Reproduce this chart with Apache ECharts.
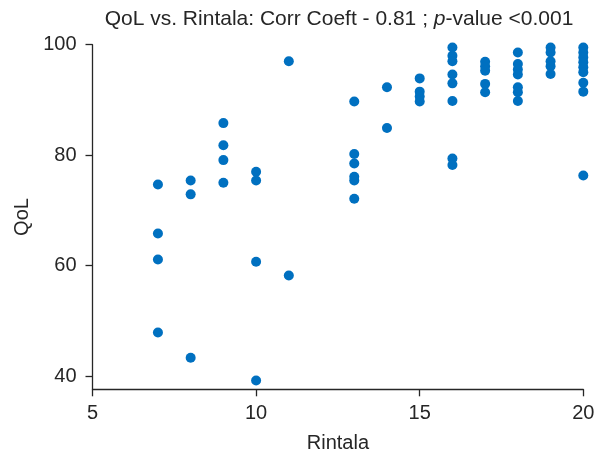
<!DOCTYPE html>
<html>
<head>
<meta charset="utf-8">
<script src="https://cdn.jsdelivr.net/npm/echarts@6/dist/echarts.min.js"></script>
<style>
html,body{margin:0;padding:0;background:#fff;}
#c{width:594px;height:452px;}
</style>
</head>
<body>
<div id="c"></div>
<script>
const rintala = [
  7,7,7,7,
  8,8,8,
  9,9,9,9,
  10,10,10,10,
  11,11,
  13,13,13,13,13,13,
  14,14,
  15,15,15,15,
  16,16,16,16,16,16,16,16,
  17,17,17,17,17,
  18,18,18,18,18,18,18,
  19,19,19,19,19,
  20,20,20,20,20,20,20,20,20
];
const qol = [
  74.7,65.8,61.1,47.9,
  75.4,72.9,43.3,
  85.8,81.8,79.1,75.0,
  77.0,75.4,60.7,39.2,
  97.0,58.2,
  89.7,80.2,78.5,76.1,75.4,72.1,
  92.3,84.9,
  93.9,91.5,90.6,89.7,
  99.5,98.0,97.0,94.6,93.0,89.8,79.4,78.2,
  96.9,96.1,95.3,92.9,91.4,
  98.6,96.5,95.5,94.6,92.3,91.4,89.8,
  99.5,98.6,97.0,96.1,94.7,
  99.5,98.6,97.7,96.8,95.9,95.0,93.1,91.5,76.3
];
const xTicks = [5, 10, 15, 20];
const yTicks = [40, 60, 80, 100];
const titleParts = ['QoL vs. Rintala: Corr Coeft - 0.81 ; ', 'p', '-value <0.001'];

const points = rintala.map((x, i) => [x, qol[i]]);
const FONT = 'Liberation Sans, Arial, sans-serif';
const TXT = '#262626';

const chart = echarts.init(document.getElementById('c'), null, {renderer: 'canvas'});
chart.setOption({
  animation: false,
  backgroundColor: '#fff',
  title: {
    text: titleParts[0] + '{i|' + titleParts[1] + '}' + titleParts[2],
    left: 339, top: 9, textAlign: 'center', padding: 0,
    textStyle: {
      fontFamily: FONT, fontSize: 21, fontWeight: 'normal', color: TXT,
      rich: { i: { fontFamily: FONT, fontSize: 21, fontStyle: 'italic', color: TXT } }
    }
  },
  grid: { left: 92.5, right: 10.7, top: 44.7, bottom: 62.7, containLabel: false, outerBoundsMode: 'none' },
  xAxis: {
    type: 'value', min: 5, max: 20,
    name: 'Rintala', nameLocation: 'middle', nameGap: 44,
    nameTextStyle: { fontFamily: FONT, fontSize: 20, color: TXT },
    axisLine: { show: true, lineStyle: { color: '#262626', width: 1.3 } },
    axisTick: { show: true, length: 7, customValues: xTicks, lineStyle: { color: '#262626', width: 1.3 } },
    axisLabel: { customValues: xTicks, fontFamily: FONT, fontSize: 20, color: TXT, margin: 14 },
    splitLine: { show: false }
  },
  yAxis: {
    type: 'value', min: 37.6, max: 100,
    name: 'QoL', nameLocation: 'middle', nameGap: 58, nameRotate: 90,
    nameTextStyle: { fontFamily: FONT, fontSize: 20, color: TXT },
    axisLine: { show: true, lineStyle: { color: '#262626', width: 1.3 } },
    axisTick: { show: true, length: 7, customValues: yTicks, lineStyle: { color: '#262626', width: 1.3 } },
    axisLabel: { customValues: yTicks, fontFamily: FONT, fontSize: 20, color: TXT, margin: 16 },
    splitLine: { show: false }
  },
  series: [{
    type: 'scatter',
    data: points,
    symbol: 'circle',
    symbolSize: 10,
    clip: false,
    itemStyle: { color: '#0070C0', opacity: 1 }
  }]
});
</script>
</body>
</html>
